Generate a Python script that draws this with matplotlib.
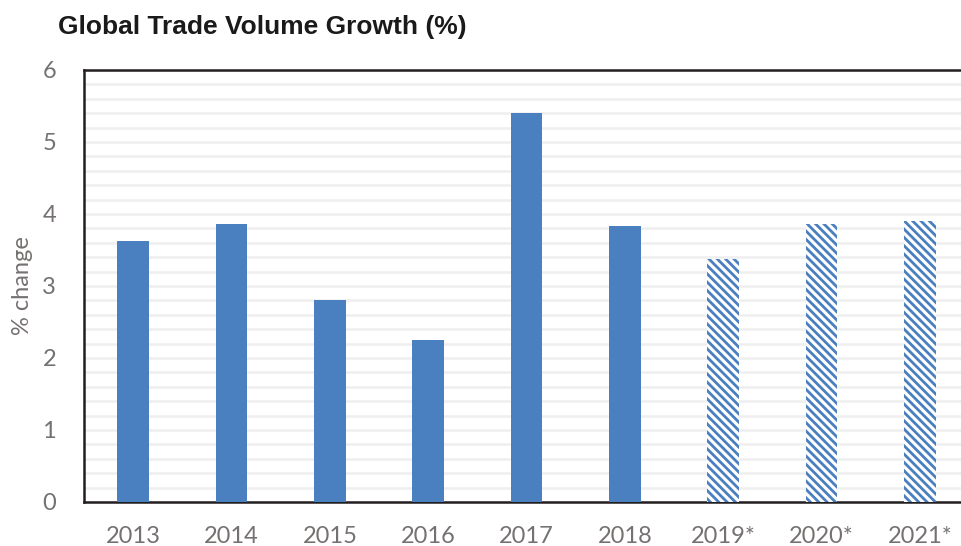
import matplotlib.pyplot as plt
import numpy as np

years = ['2013', '2014', '2015', '2016', '2017', '2018', '2019*', '2020*', '2021*']
growth = [3.62, 3.86, 2.8, 2.25, 5.4, 3.83, 3.37, 3.86, 3.9]
forecast = [False, False, False, False, False, False, True, True, True]

blue = '#4a7fc0'
grey = '#767171'

plt.rcParams['font.family'] = ['Lato', 'DejaVu Sans']
plt.rcParams['hatch.linewidth'] = 2.0

fig = plt.figure(figsize=(9.61, 5.46), dpi=100)
ax = fig.add_axes([0.0874, 0.0806, 0.921, 0.7912])

x = np.arange(len(years))
for i in range(len(years)):
    if forecast[i]:
        ax.bar(x[i], growth[i], width=0.32, color='white', edgecolor=blue,
               linewidth=0, hatch='\\\\\\\\', zorder=3)
    else:
        ax.bar(x[i], growth[i], width=0.32, color=blue, linewidth=0, zorder=3)

ax.set_xlim(-0.5, 8.5)
ax.set_ylim(0, 6)
ax.set_xticks(x)
ax.set_xticklabels(years)
ax.set_yticks(range(7))
ax.set_yticks(np.arange(0, 6.01, 0.2), minor=True)
ax.grid(True, which='both', axis='y', color='#efefef', linewidth=1.8, zorder=0)
ax.tick_params(which='both', length=0)
ax.tick_params(axis='x', labelsize=17, labelcolor=grey, pad=17)
ax.tick_params(axis='y', labelsize=17, labelcolor=grey, pad=20)

for s in ['left', 'top', 'bottom']:
    ax.spines[s].set_color('#231f20')
    ax.spines[s].set_linewidth(1.8)
ax.spines['right'].set_visible(False)

ax.set_ylabel('% change', fontsize=17, color=grey)
ax.yaxis.set_label_coords(-0.058, 0.5)

fig.text(0.06, 0.95, 'Global Trade Volume Growth (%)', fontsize=19,
         fontweight='bold', family='Liberation Sans', color='#1a1a1a',
         va='center', ha='left')

fig.savefig('out.png', dpi=100)
